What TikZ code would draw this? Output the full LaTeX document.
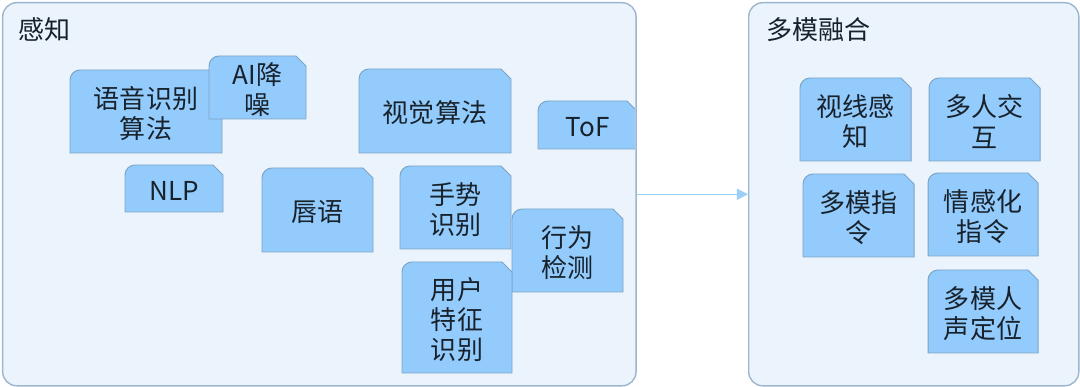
\documentclass[tikz,border=0pt]{standalone}
\usepackage{fontspec}
\newfontfamily\cjk{Noto Sans CJK SC}
\usetikzlibrary{arrows.meta,positioning}
\definecolor{cardfill}{HTML}{93CBFC}
\definecolor{cardline}{HTML}{7DA4C6}
\definecolor{panelfill}{HTML}{EBF4FD}
\definecolor{panelline}{HTML}{9DB6CD}
\definecolor{linkcol}{HTML}{9CCFF6}
\definecolor{ink}{HTML}{18222C}
\tikzset{
  panel/.style={draw=panelline, fill=panelfill, line width=1pt, rounded corners=0.35cm, anchor=north west, inner sep=0pt},
  panel title/.style={font=\cjk\fontsize{18.5}{20}\selectfont, text=ink, anchor=west, inner sep=0pt},
  card/.style={fill=cardfill, draw=cardline, line width=0.7pt},
  card label/.style={font=\cjk\fontsize{18.5}{21.5}\selectfont, text=ink, align=center, inner sep=0pt},
  link/.style={draw=linkcol, line width=0.8pt, -{Triangle[length=8pt, width=8pt]}},
}
% card: name, left, top, right, bottom (pixels from the top), text
\newcommand{\card}[6]{%
  \path[card] (#2,387-#5) -- (#2,387-#3-10) arc[start angle=180, end angle=90, radius=10]
    -- (#4-10,387-#3) -- (#4,387-#3-10) -- (#4,387-#5) -- cycle;
  \node[card label] (#1) at ({(#2+#4)/2},{385-(#3+#5)/2}) {#6};
}

\begin{document}
\begin{tikzpicture}[x=0.025cm, y=0.025cm]
  \useasboundingbox (0,0) rectangle (1080,387);

  % Panels
  \node[panel, minimum width=15.83cm, minimum height=9.575cm] (perception) at (2,385) {};
  \node[panel, minimum width=8.25cm, minimum height=9.575cm] (fusion) at (748,385) {};
  \node[panel title] (perceptiontitle) at (18,357) {感知};
  \node[panel title] (fusiontitle) at (766,357) {多模融合};

  % Perception cards
  \begin{scope}
    \clip[rounded corners=0.35cm] (2,2) rectangle (635,385);
    \card{speech}{70}{70}{222}{153}{语音识别\\算法}
    \card{denoise}{209}{56}{306}{119}{AI降\\噪}
    \card{nlp}{125}{165}{223}{212}{NLP}
    \card{lipread}{262}{168}{373}{252}{唇语}
    \card{vision}{359}{69}{511}{153}{视觉算法}
    \card{tof}{538}{101}{637}{149}{ToF}
    \card{gesture}{400}{166}{511}{249}{手势\\识别}
    \card{behavior}{512}{209}{623}{292}{行为\\检测}
    \card{userid}{402}{262}{512}{373}{用户\\特征\\识别}
  \end{scope}

  % Fusion cards
  \card{gaze}{800}{78}{911}{161}{视线感\\知}
  \card{multiuser}{929}{78}{1040}{161}{多人交\\互}
  \card{multicmd}{803}{174}{914}{257}{多模指\\令}
  \card{emotion}{928}{173}{1038}{256}{情感化\\指令}
  \card{locate}{928}{270}{1038}{353}{多模人\\声定位}

  % Link
  \draw[link] (perception.east) -- (fusion.west);
\end{tikzpicture}
\end{document}
